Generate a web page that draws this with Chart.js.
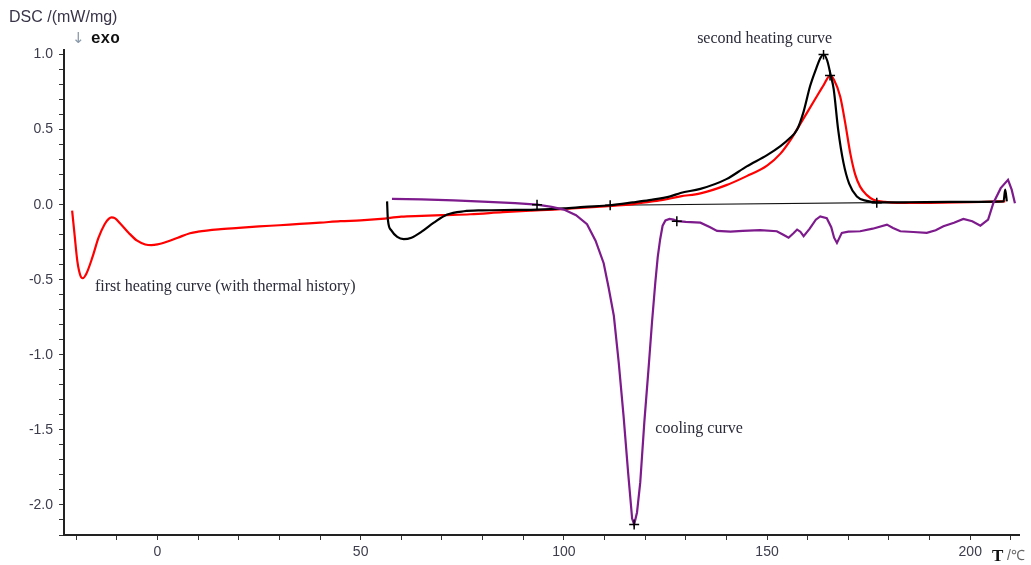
<!DOCTYPE html>
<html>
<head>
<meta charset="utf-8">
<script src="https://cdn.jsdelivr.net/npm/chart.js@4.4.1/dist/chart.umd.min.js"></script>
<style>
  html, body { margin: 0; padding: 0; background: #fff; }
  #wrap { width: 1031px; height: 565px; position: relative; }
</style>
</head>
<body>
<div id="wrap"><canvas id="c" width="1031" height="565"></canvas></div>
<script>
// ---- data (T in °C, DSC in mW/mg) ----
const firstHeatT = [-21.0,-20.4,-19.7,-19.0,-18.4,-17.5,-16.0,-14.5,-13.0,-12.0,-11.3,-10.5,-9.0,-7.0,-5.0,-3.0,-1.5,0,2.5,5,8,10,15,20,25,30,35,40,45,50,55,60,65,70,77,85,92,97.5,104,110,116,120,124,128.7,133.6,140,145,150,153.3,156,158,160,162,164,165.5,166.5,168,169.2,170.5,171.7,172.9,174.5,176.2,179,182,190,200,208.6];
const firstHeatDSC = [-0.04,-0.2,-0.38,-0.47,-0.49,-0.46,-0.35,-0.22,-0.13,-0.095,-0.085,-0.09,-0.13,-0.19,-0.24,-0.265,-0.27,-0.265,-0.245,-0.22,-0.19,-0.18,-0.165,-0.155,-0.145,-0.137,-0.128,-0.12,-0.11,-0.105,-0.095,-0.08,-0.075,-0.07,-0.064,-0.05,-0.04,-0.033,-0.022,-0.011,0.0,0.015,0.03,0.055,0.075,0.13,0.19,0.26,0.34,0.44,0.53,0.62,0.71,0.80,0.86,0.83,0.72,0.55,0.34,0.2,0.12,0.065,0.033,0.018,0.011,0.012,0.016,0.022];

const secondHeatT = [56.5,56.7,57.5,59,60.6,62.5,65,68,71.3,75.4,80,88,93.4,100,105,111.4,117,121,126.2,128.7,133.6,140,145,150,153.3,155.5,157.4,159,160.6,162,163.2,163.9,164.8,165.6,166.4,167.5,168.8,170.2,172.1,174.5,177,185,195,208.2,208.6,209.0];
const secondHeatDSC = [0.022,-0.1,-0.17,-0.215,-0.23,-0.22,-0.18,-0.12,-0.066,-0.044,-0.038,-0.035,-0.033,-0.025,-0.015,-0.004,0.015,0.03,0.055,0.078,0.105,0.17,0.255,0.33,0.39,0.44,0.5,0.62,0.79,0.9,0.98,1.0,0.96,0.87,0.77,0.5,0.28,0.14,0.055,0.025,0.015,0.016,0.018,0.022,0.1,0.022];

const coolingT = [57.7,65,72.9,80,88,93.4,97,100,103,105.7,107.8,109.8,111,112.3,113.5,114.7,115.8,116.8,117.3,118,118.8,119.8,120.9,121.7,122.5,123.1,123.7,124.3,125,126,127,128,130,133.6,136,137.7,141,144,148.3,152.4,154,155.3,156.5,157.4,158.2,159,160.5,162,163.1,164.7,165.8,166.5,167.2,168.4,170,172.9,176,179.5,181,182.8,186,189.3,191.5,193.4,196,198.3,200.5,202.5,204.4,205.7,207.5,209.3,210.2,211.0];
const coolingDSC = [0.038,0.035,0.029,0.02,0.01,0.0,-0.015,-0.033,-0.07,-0.13,-0.24,-0.39,-0.55,-0.74,-1.05,-1.41,-1.78,-2.09,-2.13,-2.05,-1.85,-1.45,-1.07,-0.78,-0.52,-0.35,-0.23,-0.14,-0.105,-0.095,-0.1,-0.11,-0.115,-0.12,-0.15,-0.175,-0.18,-0.175,-0.17,-0.177,-0.2,-0.22,-0.19,-0.166,-0.18,-0.21,-0.16,-0.1,-0.078,-0.09,-0.15,-0.22,-0.255,-0.188,-0.18,-0.177,-0.16,-0.133,-0.155,-0.177,-0.182,-0.188,-0.17,-0.144,-0.12,-0.095,-0.11,-0.14,-0.1,0.011,0.11,0.165,0.1,0.01];

const baselineT = [111.4, 208.2];
const baselineDSC = [-0.004, 0.022];

const markerT = [93.4, 111.4, 127.8, 117.3, 163.9, 165.5, 177.0];
const markerDSC = [0.0, -0.004, -0.11, -2.13, 1.0, 0.86, 0.013];

const xTicks = [-20,-10,0,10,20,30,40,50,60,70,80,90,100,110,120,130,140,150,160,170,180,190,200,210];
const yTicks = [-2.2,-2.1,-2.0,-1.9,-1.8,-1.7,-1.6,-1.5,-1.4,-1.3,-1.2,-1.1,-1.0,-0.9,-0.8,-0.7,-0.6,-0.5,-0.4,-0.3,-0.2,-0.1,0.0,0.1,0.2,0.3,0.4,0.5,0.6,0.7,0.8,0.9,1.0];
const xLabelValues = [0, 50, 100, 150, 200];
const yLabelValues = [-2.0, -1.5, -1.0, -0.5, 0.0, 0.5, 1.0];

const notes = [
  { text: 'second heating curve', T: 132.8, v: 1.106 },
  { text: 'first heating curve (with thermal history)', T: -15.4, v: -0.544 },
  { text: 'cooling curve', T: 122.5, v: -1.49 }
];

function pts(xs, ys) { return xs.map((x, i) => ({ x: x, y: ys[i] })); }
function near(v, arr) { return arr.some(a => Math.abs(a - v) < 1e-6); }

const textPlugin = {
  id: 'texts',
  afterDraw(chart) {
    const ctx = chart.ctx;
    const xs = chart.scales.x, ys = chart.scales.y;
    ctx.save();
    ctx.textBaseline = 'middle';
    ctx.textAlign = 'left';
    // annotations
    ctx.fillStyle = '#2b2b3a';
    ctx.font = '16px "Liberation Serif", "DejaVu Serif", serif';
    notes.forEach(n => {
      ctx.fillText(n.text, xs.getPixelForValue(n.T), ys.getPixelForValue(n.v));
    });
    // y axis title
    ctx.fillStyle = '#3a3448';
    ctx.font = '16px "Liberation Sans", Arial, sans-serif';
    ctx.fillText('DSC /(mW/mg)', 9, 18);
    // exo arrow
    ctx.fillStyle = '#8a9aaa';
    ctx.font = '15px "DejaVu Sans", sans-serif';
    ctx.fillText('\u2193', 72, 39);
    ctx.fillStyle = '#111';
    ctx.font = 'bold 16px "Liberation Mono", "DejaVu Sans Mono", monospace';
    ctx.fillText('exo', 91, 39);
    // x axis title
    ctx.fillStyle = '#111';
    ctx.font = 'bold 17px "Liberation Serif", serif';
    ctx.fillText('T', 992, 557);
    ctx.fillStyle = '#666';
    ctx.font = '14px "Liberation Sans", sans-serif';
    ctx.fillText('/\u2103', 1007, 556);
    ctx.restore();
  }
};

new Chart(document.getElementById('c'), {
  type: 'line',
  data: {
    datasets: [
      { label: 'markers', data: pts(markerT, markerDSC), showLine: false, pointStyle: 'cross',
        pointRadius: 5, pointBorderColor: '#000', pointBorderWidth: 1.5, borderColor: '#000', order: 0 },
      { label: 'cooling', data: pts(coolingT, coolingDSC), borderColor: '#7d1a8c', borderWidth: 2.2,
        pointRadius: 0, tension: 0, order: 1 },
      { label: 'second heating', data: pts(secondHeatT, secondHeatDSC), borderColor: '#000', borderWidth: 2.2,
        pointRadius: 0, cubicInterpolationMode: 'monotone', order: 2 },
      { label: 'first heating', data: pts(firstHeatT, firstHeatDSC), borderColor: '#ff0000', borderWidth: 2.2,
        pointRadius: 0, cubicInterpolationMode: 'monotone', order: 3 },
      { label: 'baseline', data: pts(baselineT, baselineDSC), borderColor: '#111', borderWidth: 1.2,
        pointRadius: 0, order: 4 }
    ]
  },
  options: {
    responsive: false,
    animation: false,
    events: [],
    layout: { padding: { top: 50, right: 12, left: 0, bottom: 0 } },
    plugins: { legend: { display: false }, tooltip: { enabled: false } },
    scales: {
      x: {
        type: 'linear', min: -23, max: 212,
        afterFit(s) { s.height = 30; },
        afterBuildTicks(s) { s.ticks = xTicks.map(v => ({ value: v })); },
        border: { display: true, color: '#222', width: 2 },
        grid: { display: true, drawOnChartArea: false, drawTicks: true, tickLength: 5, tickColor: '#333', tickWidth: 1 },
        ticks: {
          autoSkip: false, maxRotation: 0, padding: 4, color: '#3c3c4c',
          font: { family: '"Liberation Sans", Arial, sans-serif', size: 14 },
          callback: v => near(v, xLabelValues) ? String(v) : ''
        }
      },
      y: {
        type: 'linear', min: -2.2, max: 1.03,
        afterFit(s) { s.width = 64; },
        afterBuildTicks(s) { s.ticks = yTicks.map(v => ({ value: v })); },
        border: { display: true, color: '#222', width: 2 },
        grid: { display: true, drawOnChartArea: false, drawTicks: true, tickLength: 5, tickColor: '#333', tickWidth: 1 },
        ticks: {
          autoSkip: false, padding: 6, color: '#3c3c4c',
          font: { family: '"Liberation Sans", Arial, sans-serif', size: 14 },
          callback: v => near(v, yLabelValues) ? v.toFixed(1) : ''
        }
      }
    }
  },
  plugins: [textPlugin]
});
</script>
</body>
</html>
